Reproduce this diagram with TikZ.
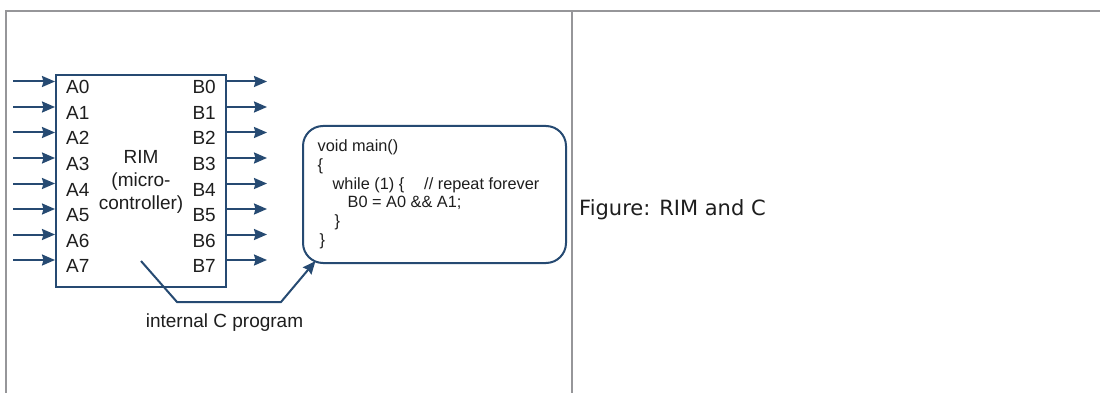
\documentclass[tikz,border=0pt]{standalone}
\usepackage{fontspec}
\setmainfont{Liberation Sans}
\newfontfamily\verdfont{DejaVu Sans}
\usetikzlibrary{arrows.meta}
\definecolor{wire}{RGB}{38,74,114}
\definecolor{txt}{RGB}{30,30,30}
\definecolor{rulecol}{RGB}{150,150,153}
\begin{document}
\begin{tikzpicture}[x=1pt,y=-1pt,
  wirestyle/.style={draw=wire, line width=2pt},
  arr/.style={wirestyle, -{Stealth[length=13pt,width=11pt,inset=1.5pt]}},
  pinlbl/.style={font=\fontsize{19}{22}\selectfont, text=txt, inner sep=0pt},
  codefont/.style={font=\fontsize{16.3}{18.8}\selectfont, text=txt, inner sep=0pt, align=left},
  tableline/.style={draw=rulecol, line width=2pt}]
\useasboundingbox (0,0) rectangle (1100,393);
\fill[white] (0,0) rectangle (1100,393);
% table frame
\draw[tableline] (5,11) -- (1100,11);
\draw[tableline] (6,11) -- (6,393);
\draw[tableline] (572,11) -- (572,393);
% microcontroller box
\node[wirestyle, draw, minimum width=170pt, minimum height=212pt, anchor=north west, inner sep=0pt] (rim) at (55,74) {};
% pins
\foreach \i/\y in {0/81.5,1/107,2/132.5,3/158,4/183.5,5/209,6/234.5,7/260}{
  \coordinate (ain\i) at (13,\y);
  \coordinate (bout\i) at (267,\y);
  \draw[arr] (ain\i) -- (ain\i -| rim.west);
  \draw[arr] (bout\i -| rim.east) -- (bout\i);
  \node[pinlbl, anchor=base west] (alab\i) at (66,\y+12.5) {A\i};
  \node[pinlbl, anchor=base east] (blab\i) at (216,\y+12.5) {B\i};
}
\node[pinlbl, align=center, anchor=north, font=\fontsize{19}{23}\selectfont] (rimtxt) at (141,150.4) {RIM\\(micro-\\controller)};
% code box
\node[wirestyle, draw, rounded corners=20pt, minimum width=263pt, minimum height=137pt, anchor=north west, inner sep=0pt] (code) at (302,125) {};
\node[codefont, anchor=north west] (codetxt) at (317.5,139.5) {void main()\\
\{\\
\hspace*{15pt}while (1) \{\hspace*{20pt}// repeat forever\\
\hspace*{30pt}B0 = A0 \&\& A1;\\
\hspace*{17pt}\}\\
\hspace*{2pt}\}};
% connector
\coordinate (cstart) at (141,261);
\coordinate (cend) at (315.5,261);
\draw[arr] (cstart) -- (177,302) -- (281,302) -- (cend);
\node[pinlbl, anchor=base] (cprog) at (224.5,327) {internal C program};
% caption
\node[font=\verdfont\fontsize{21}{25}\selectfont, text=txt, inner sep=0pt, anchor=base west] (caption) at (579,215) {Figure: RIM and C};
\end{tikzpicture}
\end{document}
